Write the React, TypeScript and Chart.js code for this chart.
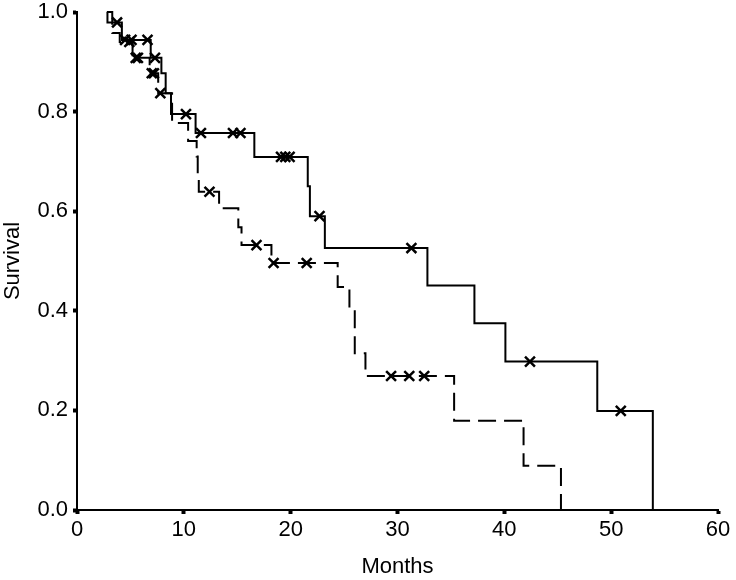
import { useEffect, useRef } from 'react';
import Chart from 'chart.js/auto';

// Solid curve: step times (months) and survival after each step
const solidTimes = [2.8, 3.3, 4.2, 6.9, 7.9, 8.3, 8.8, 11.1, 16.6, 21.6, 21.8, 23.2, 32.8, 37.2, 40.1, 48.7, 53.9];
const solidSurvival = [1.0, 0.979, 0.944, 0.908, 0.877, 0.837, 0.795, 0.757, 0.709, 0.65, 0.59, 0.526, 0.451, 0.375, 0.298, 0.199, 0.0];
const solidCensored = [3.75, 4.5, 5.1, 6.6, 7.3, 10.2, 11.6, 14.6, 15.3, 19.1, 19.5, 19.9, 22.7, 31.3, 42.4, 50.9];

// Dashed curve
const dashedTimes = [2.8, 2.85, 3.3, 4.0, 5.2, 6.8, 7.6, 8.9, 10.4, 11.2, 11.3, 11.4, 13.3, 15.1, 15.4, 18.2, 24.4, 25.5, 26.0, 27.0, 35.3, 41.8, 45.3];
const dashedSurvival = [1.0, 0.979, 0.958, 0.94, 0.908, 0.877, 0.837, 0.777, 0.741, 0.71, 0.672, 0.639, 0.606, 0.568, 0.532, 0.496, 0.448, 0.405, 0.315, 0.269, 0.179, 0.089, 0.0];
const dashedCensored = [4.9, 5.5, 5.7, 7.0, 7.2, 7.8, 12.4, 16.8, 18.4, 21.5, 29.4, 31.1, 32.5];

const xTicks = [0, 10, 20, 30, 40, 50, 60];
const yTicks = [0, 0.2, 0.4, 0.6, 0.8, 1.0];

// survival level of a step curve at time t
function levelAt(times: number[], surv: number[], t: number) {
  let v = surv[0];
  for (let i = 0; i < times.length; i++) {
    if (times[i] <= t) v = surv[i];
  }
  return v;
}

export default function App() {
  const canvasRef = useRef<HTMLCanvasElement>(null);
  const chartRef = useRef<Chart | null>(null);

  useEffect(() => {
    document.body.style.margin = '0';
    if (!canvasRef.current) return;
    if (chartRef.current) chartRef.current.destroy();
    const ctx = canvasRef.current.getContext('2d');
    if (!ctx) return;

    Chart.defaults.font.family = "'Liberation Sans', Arial, sans-serif";
    Chart.defaults.font.size = 22;
    Chart.defaults.color = '#000';

    const curve = (times: number[], surv: number[]) => times.map((t, i) => ({ x: t, y: surv[i] }));
    const marks = (cens: number[], times: number[], surv: number[]) =>
      cens.map(t => ({ x: t, y: levelAt(times, surv, t) }));

    const censorStyle = {
      showLine: false,
      pointStyle: 'crossRot' as const,
      pointRadius: 7,
      pointBorderWidth: 2.5,
      pointBorderColor: '#000',
    };

    chartRef.current = new Chart(ctx, {
      type: 'scatter',
      data: {
        datasets: [
          {
            data: curve(solidTimes, solidSurvival),
            showLine: true,
            stepped: true,
            borderColor: '#000',
            borderWidth: 2,
            pointRadius: 0,
          },
          {
            data: curve(dashedTimes, dashedSurvival),
            showLine: true,
            stepped: true,
            borderColor: '#000',
            borderWidth: 2,
            borderDash: [18, 8],
            pointRadius: 0,
          },
          { data: marks(solidCensored, solidTimes, solidSurvival), ...censorStyle },
          { data: marks(dashedCensored, dashedTimes, dashedSurvival), ...censorStyle },
        ],
      },
      options: {
        animation: false,
        responsive: false,
        clip: false,
        layout: { padding: { left: 0, top: 12, right: 18, bottom: 0 } },
        plugins: { legend: { display: false }, tooltip: { enabled: false } },
        scales: {
          x: {
            type: 'linear',
            min: 0,
            max: 60,
            afterBuildTicks: s => { s.ticks = xTicks.map(v => ({ value: v })); },
            afterFit: s => { s.height = 70; s.paddingLeft = 0; s.paddingRight = 0; },
            ticks: { padding: 3 },
            grid: { drawOnChartArea: false, drawTicks: true, tickLength: 4, tickWidth: 4, color: '#000' },
            border: { display: true, color: '#000', width: 2 },
            title: { display: true, text: 'Months', padding: { top: 0, bottom: 0 } },
          },
          y: {
            type: 'linear',
            min: 0,
            max: 1,
            afterBuildTicks: s => { s.ticks = yTicks.map(v => ({ value: v })); },
            afterFit: s => { s.width = 77; s.paddingTop = 0; s.paddingBottom = 0; },
            ticks: { padding: 5, callback: v => Number(v).toFixed(1) },
            grid: { drawOnChartArea: false, drawTicks: true, tickLength: 4, tickWidth: 4, color: '#000' },
            border: { display: true, color: '#000', width: 2 },
            title: { display: true, text: 'Survival', padding: { top: 0, bottom: 0 } },
          },
        },
      },
    });

    return () => {
      if (chartRef.current) {
        chartRef.current.destroy();
        chartRef.current = null;
      }
    };
  }, []);

  return (
    <div style={{ width: '736px', height: '580px' }}>
      <canvas ref={canvasRef} width={736} height={580} style={{ display: 'block' }} />
    </div>
  );
}
